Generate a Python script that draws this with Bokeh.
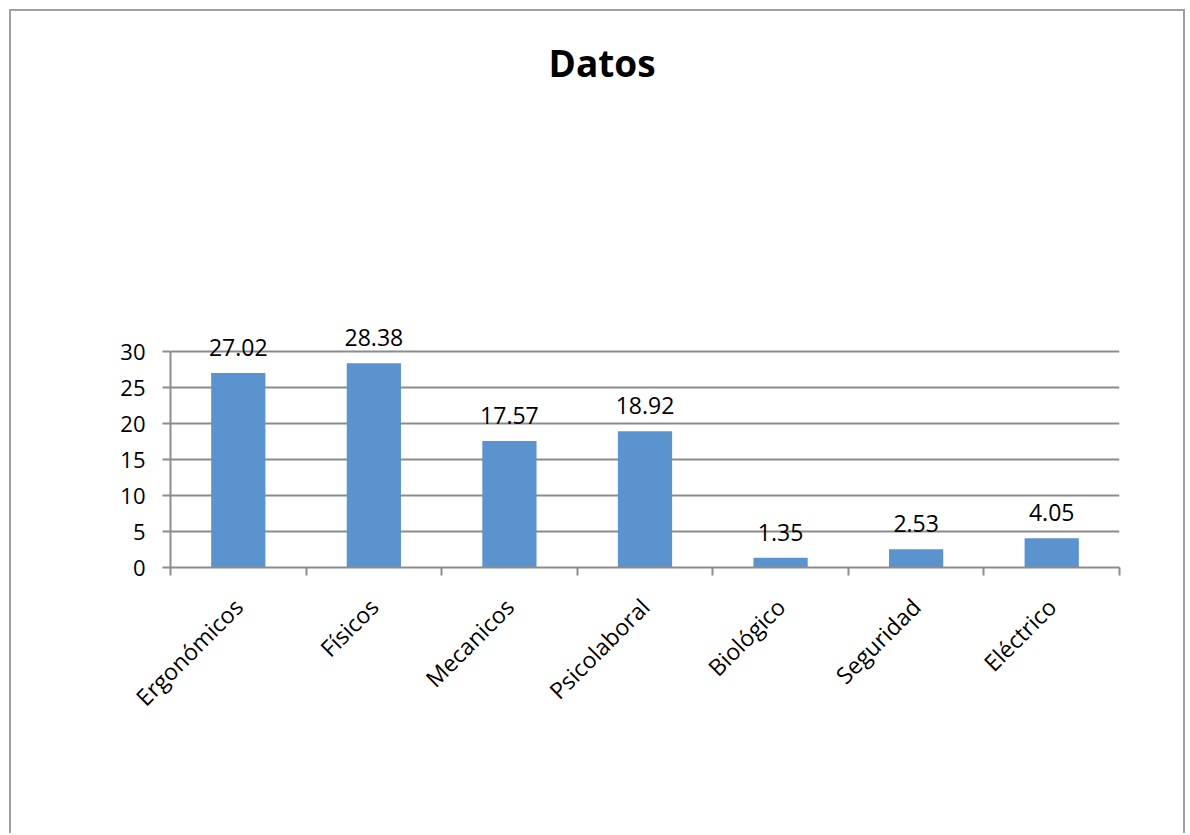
import math
from bokeh.plotting import figure
from bokeh.models import FixedTicker, Range1d, ColumnDataSource, LabelSet
from bokeh.core.properties import value
from bokeh.embed import file_html
from bokeh.resources import INLINE

categories = ["Ergonómicos", "Físicos", "Mecanicos", "Psicolaboral", "Biológico", "Seguridad", "Eléctrico"]
values = [27.02, 28.38, 17.57, 18.92, 1.35, 2.53, 4.05]
y_ticks = [0, 5, 10, 15, 20, 25, 30]
title_text = "Datos"

xs = list(range(1, len(categories) + 1))
src = ColumnDataSource(dict(x=xs, top=values, label=[f"{v:.2f}" for v in values]))

FONT = "Open Sans"
GRAY = "#8c8c8c"
BAR = "#5B93CF"

# frame extends above the value axis so the labels above the 30 line are not clipped
p = figure(width=1176, height=824, output_backend="svg", toolbar_location=None,
           x_range=Range1d(0.5, len(categories) + 0.5), y_range=Range1d(0, 66),
           min_border_left=159, min_border_right=68, min_border_top=81, min_border_bottom=268,
           title=title_text)
p.margin = (9, 0, 0, 9)
p.styles = {"border-top": "2px solid #a0a0a0", "border-left": "2px solid #a0a0a0",
            "border-right": "2px solid #a0a0a0"}
p.background_fill_color = "white"
p.border_fill_color = "white"
p.outline_line_color = None

p.title.align = "left"
p.title.offset = 378
p.title.text_font = FONT
p.title.text_font_size = "37px"
p.title.text_font_style = "bold"
p.title.text_color = "black"
p.title.standoff = 10

p.vbar(x="x", top="top", bottom=0, width=0.4, source=src, fill_color=BAR, line_color=None)
labels = LabelSet(x="x", y="top", text="label", source=src, text_align="center",
                  text_baseline="alphabetic", y_offset=17, text_font=value(FONT),
                  text_font_size=value("23px"), text_color="black")
p.add_layout(labels)

# x axis
xa = p.xaxis[0]
xa.ticker = FixedTicker(ticks=xs, minor_ticks=[x - 0.5 for x in xs] + [xs[-1] + 0.5])
xa.major_label_overrides = {x: c for x, c in zip(xs, categories)}
xa.major_label_orientation = math.pi / 4
xa.major_tick_out = 0
xa.major_tick_in = 0
xa.minor_tick_out = 8
xa.minor_tick_in = 0
xa.minor_tick_line_color = GRAY
xa.minor_tick_line_width = 2
xa.axis_line_color = GRAY
xa.axis_line_width = 2
xa.major_label_text_font = FONT
xa.major_label_text_font_size = "23px"
xa.major_label_text_color = "black"
xa.major_label_standoff = 27

# y axis
ya = p.yaxis[0]
ya.ticker = FixedTicker(ticks=y_ticks)
ya.bounds = (min(y_ticks), max(y_ticks))
ya.major_tick_out = 8
ya.major_tick_in = 0
ya.major_tick_line_color = GRAY
ya.major_tick_line_width = 2
ya.minor_tick_line_color = None
ya.axis_line_color = GRAY
ya.axis_line_width = 2
ya.major_label_text_font = FONT
ya.major_label_text_font_size = "22px"
ya.major_label_text_color = "black"
ya.major_label_standoff = 17

p.xgrid.visible = False
p.ygrid.ticker = FixedTicker(ticks=y_ticks)
p.ygrid.grid_line_color = GRAY
p.ygrid.grid_line_width = 2

open("out.html", "w").write(file_html(p, INLINE))
